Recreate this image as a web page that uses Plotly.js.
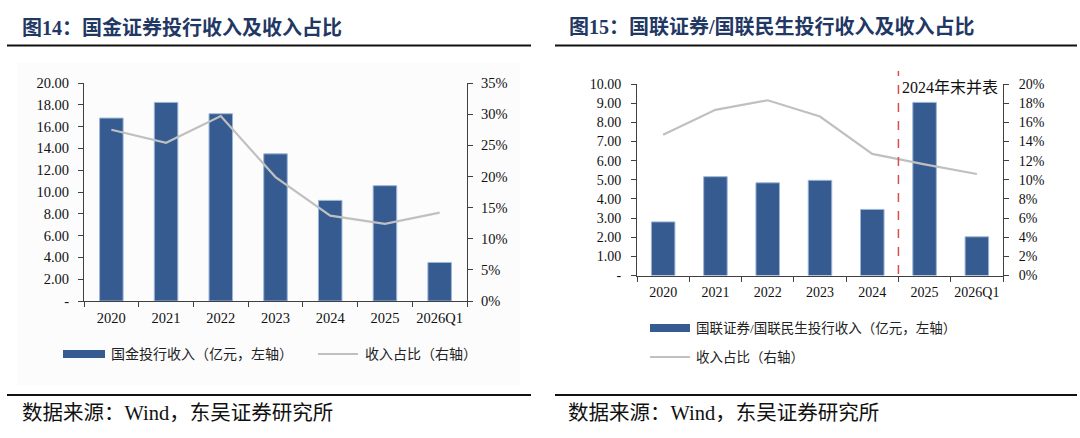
<!DOCTYPE html>
<html>
<head>
<meta charset="utf-8">
<script src="https://cdn.plot.ly/plotly-3.0.1.min.js"></script>
<style>
  body { margin: 0; background: #fff; }
  #chart { width: 1080px; height: 438px; }
</style>
</head>
<body>
<div id="chart"></div>
<script>
/* two panels: 国金 (left) and 国联 (right), bars on left axis, share line on right axis */

var years = ['2020', '2021', '2022', '2023', '2024', '2025', '2026Q1'];

// left panel
var gjTitle = '图14：国金证券投行收入及收入占比';
var gjIncome = [16.78, 18.22, 17.18, 13.50, 9.23, 10.58, 3.53];
var gjShare = [0.275, 0.254, 0.297, 0.199, 0.137, 0.124, 0.142];
var gjBarName = '国金投行收入（亿元，左轴）';
var gjLineName = '收入占比（右轴）';
var gjLeftTicks = [0, 2, 4, 6, 8, 10, 12, 14, 16, 18, 20];
var gjRightTicks = [0, 0.05, 0.10, 0.15, 0.20, 0.25, 0.30, 0.35];

// right panel
var glTitle = '图15：国联证券/国联民生投行收入及收入占比';
var glIncome = [2.80, 5.16, 4.84, 4.97, 3.45, 9.04, 2.02];
var glShare = [0.147, 0.173, 0.183, 0.166, 0.127, 0.116, 0.106];
var glBarName = '国联证券/国联民生投行收入（亿元，左轴）';
var glLineName = '收入占比（右轴）';
var glLeftTicks = [0, 1, 2, 3, 4, 5, 6, 7, 8, 9, 10];
var glRightTicks = [0, 0.02, 0.04, 0.06, 0.08, 0.10, 0.12, 0.14, 0.16, 0.18, 0.20];
var mergeNote = '2024年末并表';

var source = '数据来源：Wind，东吴证券研究所';

var W = 1080, H = 438;
var barColor = '#355B91';
var lineColor = '#C0C0C0';
var axisColor = '#404040';
var serif = '"Liberation Serif", "Times New Roman", "Noto Sans CJK SC", serif';
var cjk = '"Liberation Serif", "Noto Sans CJK SC", serif';

// pixel helpers -> paper coords
function px(x) { return x / W; }
function py(y) { return 1 - y / H; }

function leftLabel(v) { return v === 0 ? '-' : v.toFixed(2); }
function pct(v) { return Math.round(v * 100) + '%'; }

var data = [
  {
    x: years, y: gjIncome, type: 'bar', xaxis: 'x', yaxis: 'y',
    width: 0.43, marker: { color: barColor, line: { color: '#9DB5D6', width: 1 } },
    name: gjBarName, showlegend: false
  },
  {
    x: years, y: gjShare, type: 'scatter', mode: 'lines', xaxis: 'x', yaxis: 'y2',
    line: { color: lineColor, width: 2.2 }, name: gjLineName, showlegend: false
  },
  {
    x: years, y: glIncome, type: 'bar', xaxis: 'x2', yaxis: 'y3',
    width: 0.45, marker: { color: barColor, line: { color: '#9DB5D6', width: 1 } },
    name: glBarName, showlegend: false
  },
  {
    x: years, y: glShare, type: 'scatter', mode: 'lines', xaxis: 'x2', yaxis: 'y4',
    line: { color: lineColor, width: 2.2 }, name: glLineName, showlegend: false
  }
];

function xAxis(dom, anchor, size) {
  return {
    domain: dom, anchor: anchor, type: 'category', range: [-0.5, 6.5],
    showline: true, linecolor: axisColor, linewidth: 1,
    ticks: 'outside', tickson: 'boundaries', ticklen: 5, tickcolor: axisColor,
    tickangle: 0, automargin: false, ticklabelstandoff: 4,
    showgrid: false, zeroline: false,
    tickfont: { family: serif, size: size, color: '#111' }
  };
}

function yAxis(dom, anchor, rng, ticks, labelFn, side, overlay, size, gap) {
  var ax = {
    domain: dom, anchor: anchor, range: rng, side: side,
    tickmode: 'array', tickvals: ticks, ticktext: ticks.map(labelFn),
    showline: true, linecolor: axisColor, linewidth: 1,
    ticks: 'outside', ticklen: 5, tickcolor: axisColor, ticklabelstandoff: gap,
    showgrid: false, zeroline: false, automargin: false,
    tickfont: { family: serif, size: size, color: '#111' }
  };
  if (overlay) ax.overlaying = overlay;
  return ax;
}

var leftX = [px(84), px(467)];
var leftY = [py(301), py(83)];
var rightX = [px(637), px(1003)];
var rightY = [py(275.5), py(84)];

var shapes = [
  // very faint panel behind the left chart
  { type: 'rect', xref: 'paper', yref: 'paper', x0: px(17), x1: px(520), y0: py(385), y1: py(63),
    fillcolor: '#FCFCFC', line: { width: 0 }, layer: 'below' },
  // title rules
  { type: 'line', xref: 'paper', yref: 'paper', x0: px(7), x1: px(531), y0: py(45.5), y1: py(45.5),
    line: { color: '#111', width: 2 } },
  { type: 'line', xref: 'paper', yref: 'paper', x0: px(555), x1: px(1077), y0: py(45.5), y1: py(45.5),
    line: { color: '#111', width: 2 } },
  // source rules
  { type: 'line', xref: 'paper', yref: 'paper', x0: px(7), x1: px(531), y0: py(395), y1: py(395),
    line: { color: '#111', width: 2 } },
  { type: 'line', xref: 'paper', yref: 'paper', x0: px(555), x1: px(1077), y0: py(395), y1: py(395),
    line: { color: '#111', width: 2 } },
  // merge marker between 2024 and 2025
  { type: 'line', xref: 'x2', yref: 'paper', x0: 4.5, x1: 4.5, y0: py(274), y1: py(71),
    line: { color: '#D2504D', width: 1.5, dash: 'dash' } },
  // legend keys, left
  { type: 'rect', xref: 'paper', yref: 'paper', x0: px(63), x1: px(105), y0: py(358), y1: py(350),
    fillcolor: barColor, line: { width: 0 } },
  { type: 'line', xref: 'paper', yref: 'paper', x0: px(318), x1: px(358), y0: py(354), y1: py(354),
    line: { color: lineColor, width: 2 } },
  // legend keys, right
  { type: 'rect', xref: 'paper', yref: 'paper', x0: px(650), x1: px(690), y0: py(332), y1: py(324),
    fillcolor: barColor, line: { width: 0 } },
  { type: 'line', xref: 'paper', yref: 'paper', x0: px(650), x1: px(690), y0: py(357), y1: py(357),
    line: { color: lineColor, width: 2 } }
];

function txt(x, y, s, size, color, weight) {
  return {
    xref: 'paper', yref: 'paper', x: px(x), y: py(y), text: s, showarrow: false,
    xanchor: 'left', yanchor: 'middle',
    font: { family: cjk, size: size, color: color || '#222', weight: weight || 'normal' }
  };
}

var annotations = [
  txt(20, 27, gjTitle, 20, '#1F3864', 'bold'),
  txt(567, 27, glTitle, 20, '#1F3864', 'bold'),
  txt(109, 354, gjBarName, 14),
  txt(363, 354, gjLineName, 14),
  txt(694, 328, glBarName, 13.5),
  txt(694, 357, glLineName, 13.5),
  txt(20, 413, source, 20.5, '#111'),
  txt(566, 413, source, 20.5, '#111'),
  { xref: 'x2', yref: 'paper', x: 4.5, y: py(87), xanchor: 'left', yanchor: 'middle', xshift: 2,
    text: mergeNote, showarrow: false, font: { family: cjk, size: 16, color: '#111' } }
];

var layout = {
  width: W, height: H,
  margin: { l: 0, r: 0, t: 0, b: 0 },
  paper_bgcolor: '#FFFFFF', plot_bgcolor: 'rgba(0,0,0,0)',
  showlegend: false,
  xaxis: xAxis(leftX, 'y', 14.5),
  yaxis: yAxis(leftY, 'x', [0, 20], gjLeftTicks, leftLabel, 'left', null, 14.5, 6),
  yaxis2: yAxis(leftY, 'x', [0, 0.35], gjRightTicks, pct, 'right', 'y', 14.5, 5),
  xaxis2: xAxis(rightX, 'y3', 14),
  yaxis3: yAxis(rightY, 'x2', [0, 10], glLeftTicks, leftLabel, 'left', null, 14, 7),
  yaxis4: yAxis(rightY, 'x2', [0, 0.2], glRightTicks, pct, 'right', 'y3', 14, 7),
  shapes: shapes,
  annotations: annotations
};

Plotly.newPlot('chart', data, layout, { staticPlot: true });
</script>
</body>
</html>
